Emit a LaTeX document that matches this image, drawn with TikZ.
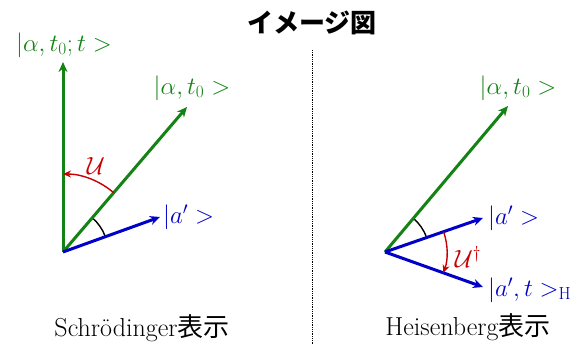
\documentclass[tikz,border=0pt]{standalone}
\usepackage{fontspec}
\newfontfamily\jpfont{Noto Sans CJK JP}
\definecolor{vecgreen}{RGB}{20,130,20}
\definecolor{vecblue}{RGB}{0,0,200}
\definecolor{oprred}{RGB}{200,0,0}
\usepackage{tikz}
\usetikzlibrary{arrows.meta, positioning, calc}

\begin{document}
\begin{tikzpicture}[x=1pt,y=1pt,
          font=\fontsize{25}{30}\selectfont,
          vec/.style={line width=3pt,-{Stealth[length=10pt,width=9pt]}},
          opr/.style={oprred,line width=1.4pt,-{Stealth[length=8pt,width=7pt]}},
          ang/.style={black,line width=1.4pt},
          ket/.style={inner sep=1pt}]
        \useasboundingbox (0,0) rectangle (577,345);
        % title and separator
        \node[font=\fontsize{26}{30}\selectfont\jpfont\bfseries] (title) at (312,322) {イメージ図};
        \coordinate (septop) at (312,295);
        \coordinate (sepbot) at (312,0);
        \draw[densely dotted,line width=0.8pt] (septop) -- (sepbot);

        % Schroedinger picture
        \coordinate (oL) at (63,93);
        \coordinate (vTip) at (63,283);
        \coordinate (dTip) at (187,238);
        \coordinate (bTip) at (160,128);
        \draw[ang] ($(oL)+(19.8:45)$) arc[start angle=19.8,end angle=49.5,radius=45];
        \draw[vec,vecgreen] (oL) -- (vTip);
        \draw[vec,vecgreen] (oL) -- (dTip);
        \draw[vec,vecblue] (oL) -- (bTip);
        \draw[opr] ($(oL)+(49.5:78)$) arc[start angle=49.5,end angle=90,radius=78];
        \node[ket,vecgreen] (ketS) at (64,300) {$|\alpha, t_0; t >$};
        \node[ket,vecgreen] (ketA) at (192,257) {$|\alpha, t_0 >$};
        \node[ket,vecblue,anchor=west] (ketB) at (162,128) {$|a' >$};
        \node[oprred] (opU) at (96,179) {$\mathcal{U}$};
        \node[font=\fontsize{26}{30}\selectfont] (capS) at (142,17) {Schr\"odinger{\jpfont 表示}};

        % Heisenberg picture
        \coordinate (oR) at (385,93);
        \coordinate (gTip) at (508,239);
        \coordinate (uTip) at (483,127);
        \coordinate (lTip) at (483,58);
        \draw[ang] ($(oR)+(19.1:44)$) arc[start angle=19.1,end angle=49.9,radius=44];
        \draw[vec,vecgreen] (oR) -- (gTip);
        \draw[vec,vecblue] (oR) -- (uTip);
        \draw[vec,vecblue] (oR) -- (lTip);
        \draw[opr] ($(oR)+(19.1:62)$) arc[start angle=19.1,end angle=-19.7,radius=62];
        \node[ket,vecgreen] (ketC) at (518,257) {$|\alpha, t_0 >$};
        \node[ket,vecblue,anchor=west] (ketD) at (487,127) {$|a' >$};
        \node[ket,vecblue,anchor=west] (ketH) at (487,55) {$|a', t >_{\mathrm{H}}$};
        \node[oprred] (opUd) at (468,88) {$\mathcal{U}^\dagger$};
        \node[font=\fontsize{26}{30}\selectfont] (capH) at (468,18) {Heisenberg{\jpfont 表示}};
\end{tikzpicture}
\end{document}
